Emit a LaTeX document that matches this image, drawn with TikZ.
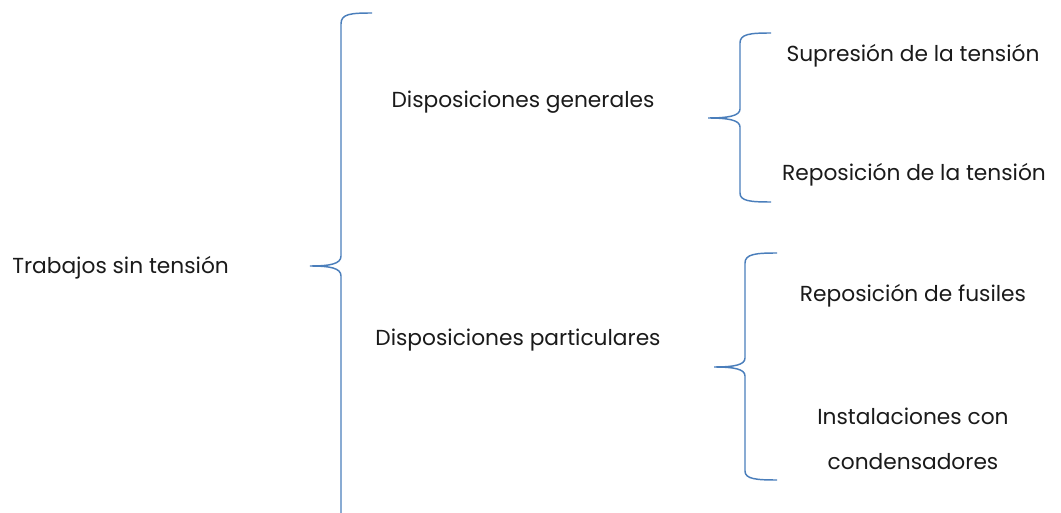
\documentclass[tikz,border=0pt]{standalone}
\usepackage{fontspec}
\setmainfont{Poppins}
\definecolor{llave}{HTML}{4A7EBB}
\definecolor{texto}{HTML}{1A1A1A}
\tikzset{
  etiqueta/.style={font=\fontsize{16.3}{20}\selectfont, text=texto, inner sep=0pt, align=center},
  llave/.style={draw=llave, line width=1.1pt}
}
\begin{document}
\begin{tikzpicture}[x=0.75pt, y=-0.75pt]
  \useasboundingbox (0,0) rectangle (1061,513);
  % textos
  \node[etiqueta, anchor=west] (trabajos) at (12,268) {Trabajos sin tensión};
  \node[etiqueta] (generales) at (523,102) {Disposiciones generales};
  \node[etiqueta] (particulares) at (518,340) {Disposiciones particulares};
  \node[etiqueta] (supresion) at (913,56) {Supresión de la tensión};
  \node[etiqueta] (reposicion) at (914,175) {Reposición de la tensión};
  \node[etiqueta] (fusiles) at (913,296) {Reposición de fusiles};
  \node[etiqueta] (condensadores) at (913,439) {Instalaciones con\\[14pt]condensadores};
  % llave grande
  \draw[llave] (372,13) .. controls (350,13) and (341,14) .. (341,24) -- (341,256)
    .. controls (341,264) and (330,266) .. (310,266)
    .. controls (330,266) and (341,268) .. (341,276) -- (341,513);
  % llave de generales
  \draw[llave] (771,33) .. controls (750,33) and (740,34) .. (740,43) -- (740,109)
    .. controls (740,116) and (728,118) .. (708,118)
    .. controls (728,118) and (740,120) .. (740,127) -- (740,193)
    .. controls (740,201) and (750,202) .. (771,202);
  % llave de particulares
  \draw[llave] (777,253) .. controls (756,253) and (745,254) .. (745,263) -- (745,358)
    .. controls (745,365) and (734,367) .. (714,367)
    .. controls (734,367) and (745,369) .. (745,376) -- (745,471)
    .. controls (745,479) and (756,480) .. (777,480);
\end{tikzpicture}
\end{document}
